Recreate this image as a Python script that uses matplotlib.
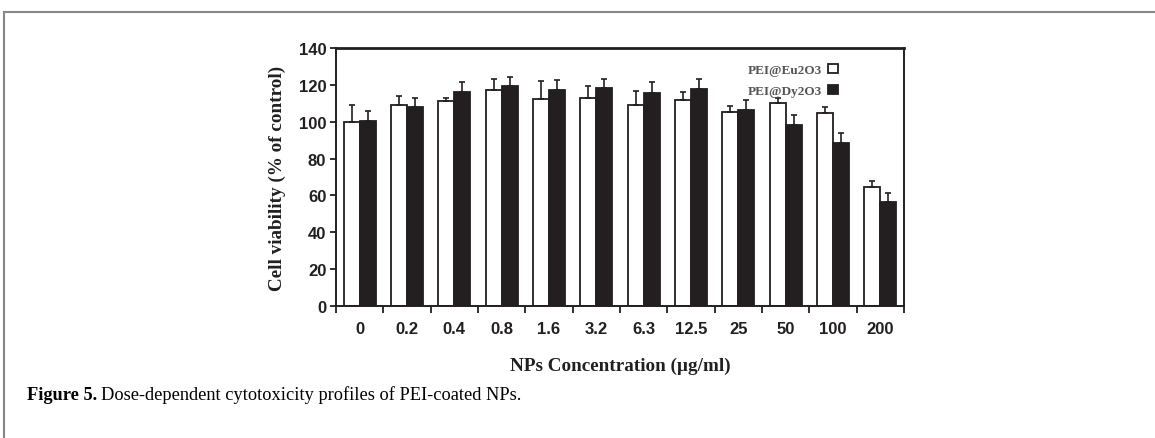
import numpy as np
import matplotlib
matplotlib.use("Agg")
import matplotlib.pyplot as plt
from matplotlib.lines import Line2D

# concentrations (ug/ml)
conc = ["0", "0.2", "0.4", "0.8", "1.6", "3.2", "6.3", "12.5", "25", "50", "100", "200"]
eu_mean = [100, 109, 111, 117, 112.4, 113, 109, 112, 105, 110, 104.8, 64.3]
eu_err = [9, 5, 1.7, 6.4, 9.6, 6.4, 7.5, 4.1, 3.5, 3.1, 3.0, 3.6]
dy_mean = [100.4, 108, 116, 119.2, 117.2, 118.5, 115.6, 118, 106.6, 98.4, 88.7, 56.2]
dy_err = [5.5, 5, 5.6, 5.3, 5.3, 4.9, 5.8, 5.2, 5.2, 5.1, 5.4, 5.0]

fig = plt.figure(figsize=(11.55, 4.39), dpi=100)
ax = fig.add_axes([0.2909, 0.3007, 0.4918, 0.5877])

x = np.arange(len(conc))
w = 0.34
ekw = dict(ecolor="#231f20", elinewidth=1.2, capsize=2.5, capthick=1.2)
ax.bar(x - w / 2, eu_mean, w, color="white", edgecolor="#231f20", linewidth=1.3,
       yerr=[np.zeros(len(eu_err)), eu_err], error_kw=ekw, label="PEI@Eu2O3")
ax.bar(x + w / 2, dy_mean, w, color="#231f20", edgecolor="#231f20", linewidth=1.3,
       yerr=[np.zeros(len(dy_err)), dy_err], error_kw=ekw, label="PEI@Dy2O3")

ax.set_xlim(-0.5, len(conc) - 0.5)
ax.set_ylim(0, 140)
ax.set_yticks(np.arange(0, 141, 20))
ax.set_xticks(x)
ax.set_xticklabels(conc)
ax.set_xticks(np.arange(-0.5, len(conc), 1), minor=True)
ax.tick_params(axis="x", which="major", length=0, pad=11)
ax.tick_params(axis="x", which="minor", length=5, width=1.3, direction="out", color="#231f20")
ax.tick_params(axis="y", length=4, width=1.3, direction="out", color="#231f20", pad=3)
for lab in ax.get_xticklabels() + ax.get_yticklabels():
    lab.set_fontfamily("Liberation Sans")
    lab.set_fontweight("bold")
    lab.set_fontsize(12)
    lab.set_color("#231f20")
for s in ax.spines.values():
    s.set_linewidth(1.4)
    s.set_color("#231f20")
ax.spines["top"].set_linewidth(2)

ax.set_ylabel("Cell viability (% of control)", fontfamily="Liberation Serif",
              fontweight="bold", fontsize=13.8, color="#231f20", labelpad=9)
ax.set_xlabel("NPs Concentration (\u00b5g/ml)", fontfamily="Liberation Serif",
              fontweight="bold", fontsize=13.8, color="#231f20", labelpad=15)

leg = ax.legend(loc="upper right", bbox_to_anchor=(0.904, 0.985), frameon=False,
                markerfirst=False, handlelength=0.7, handleheight=0.7,
                handletextpad=0.5, labelspacing=0.7,
                prop={"family": "Liberation Serif", "size": 9.5, "weight": "bold"})
for t in leg.get_texts():
    t.set_color("#555555")

# page frame and caption
fig.add_artist(Line2D([0.0035, 1.0], [0.970, 0.970], color="#888888", lw=1.5))
fig.add_artist(Line2D([0.0035, 0.0035], [0.0, 0.970], color="#888888", lw=1.5))
t1 = fig.text(0.023, 0.10, "Figure 5.", fontfamily="Liberation Serif", fontweight="bold",
              fontsize=13.2, va="center")
fig.canvas.draw()
bb = t1.get_window_extent().transformed(fig.transFigure.inverted())
fig.text(bb.x1 + 0.004, 0.10, "Dose-dependent cytotoxicity profiles of PEI-coated NPs.",
         fontfamily="Liberation Serif", fontsize=13.2, va="center")

fig.savefig("out.png", dpi=100)
